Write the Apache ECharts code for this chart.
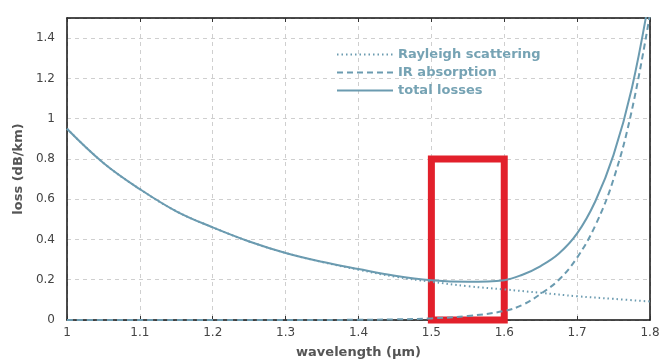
<!DOCTYPE html>
<html>
<head>
<meta charset="utf-8">
<script src="https://cdn.jsdelivr.net/npm/echarts@6/dist/echarts.min.js"></script>
<style>html,body{margin:0;padding:0;background:#fff;}#chart{width:660px;height:363px;}</style>
</head>
<body>
<div id="chart"></div>
<script>
// wavelength (µm) sample points
var rayleighX = [1.0,1.05,1.1,1.15,1.2,1.25,1.3,1.35,1.4,1.45,1.5,1.55,1.6,1.65,1.7,1.75,1.8];
var rayleighY = [0.95,0.78,0.65,0.54,0.46,0.39,0.333,0.288,0.25,0.215,0.19,0.168,0.152,0.135,0.118,0.105,0.092];

var irX = [1.0,1.1,1.2,1.3,1.4,1.45,1.5,1.55,1.6,1.625,1.65,1.675,1.7,1.725,1.75,1.775,1.8];
var irY = [0,0,0,0,0.001,0.003,0.008,0.02,0.045,0.075,0.13,0.2,0.31,0.47,0.7,1.04,1.52];

var totalX = [1.0,1.05,1.1,1.15,1.2,1.25,1.3,1.35,1.4,1.45,1.5,1.55,1.6,1.625,1.65,1.675,1.7,1.725,1.75,1.775,1.8];
var totalY = [0.95,0.78,0.65,0.54,0.46,0.39,0.333,0.289,0.253,0.22,0.198,0.19,0.198,0.225,0.268,0.33,0.43,0.59,0.82,1.15,1.62];

var seriesNames = ['Rayleigh scattering','IR absorption','total losses'];
var xTicks = [1,1.1,1.2,1.3,1.4,1.5,1.6,1.7,1.8];
var yTicks = [0,0.2,0.4,0.6,0.8,1,1.2,1.4];
// highlighted window: [x0, y0, x1, y1]
var windowBox = [1.5, 0, 1.6, 0.8];

function pairs(xs, ys){ return xs.map(function(x,i){ return [x, ys[i]]; }); }
function pick(list){ return function(v){ var t = list.filter(function(k){return Math.abs(k-v)<1e-6;}); return t.length? String(t[0]) : ''; }; }

var lineColor = '#6b9bb0';
var gridLine = {show:true,lineStyle:{color:'#cfcfcf',type:[4,4],width:1}};
var frame = {show:true,onZero:false,lineStyle:{color:'#111',width:1.5}};
var chart = echarts.init(document.getElementById('chart'), null, {renderer:'canvas'});
chart.setOption({
  animation:false,
  backgroundColor:'#fff',
  grid:{left:67,right:10,top:18,bottom:43,outerBoundsMode:'none',containLabel:false},
  legend:{
    orient:'vertical', left:331, top:43, itemGap:5, itemWidth:56, itemHeight:14,
    data:seriesNames,
    itemStyle:{opacity:0},
    textStyle:{color:'#76a3b4',fontWeight:'bold',fontSize:13,fontFamily:'DejaVu Sans'}
  },
  xAxis:[{
    type:'value', min:1, max:1.8, interval:0.1,
    name:'wavelength (µm)', nameLocation:'middle', nameGap:26,
    nameTextStyle:{color:'#555',fontWeight:'bold',fontSize:13,fontFamily:'DejaVu Sans'},
    axisLine:frame,
    axisTick:{show:true,inside:true,length:4,lineStyle:{color:'#333'}},
    axisLabel:{color:'#444',fontSize:12,fontFamily:'DejaVu Sans',margin:7,formatter:pick(xTicks)},
    splitLine:gridLine
  },{
    type:'value', min:1, max:1.8, interval:0.1, position:'top',
    axisLine:frame, axisTick:{show:true,inside:true,length:4,lineStyle:{color:'#333'}},
    axisLabel:{show:false}, splitLine:{show:false}
  }],
  yAxis:[{
    type:'value', min:0, max:1.5, interval:0.2,
    name:'loss (dB/km)', nameLocation:'middle', nameGap:35,
    nameTextStyle:{color:'#555',fontWeight:'bold',fontSize:13,fontFamily:'DejaVu Sans'},
    axisLine:frame,
    axisTick:{show:false},
    axisLabel:{color:'#444',fontSize:12,fontFamily:'DejaVu Sans',margin:12,showMaxLabel:false,formatter:pick(yTicks)},
    splitLine:gridLine
  },{
    type:'value', min:0, max:1.5, interval:0.2, position:'right',
    axisLine:frame, axisTick:{show:false}, axisLabel:{show:false}, splitLine:{show:false}
  }],
  series:[
    {name:seriesNames[0], type:'line', smooth:0.4, symbol:'none', clip:true,
     data:pairs(rayleighX, rayleighY),
     lineStyle:{color:lineColor,width:2,type:[1.5,3]}, itemStyle:{color:lineColor}},
    {name:seriesNames[1], type:'line', smooth:0.4, symbol:'none', clip:true,
     data:pairs(irX, irY),
     lineStyle:{color:lineColor,width:2,type:[6,4]}, itemStyle:{color:lineColor}},
    {name:seriesNames[2], type:'line', smooth:0.4, symbol:'none', clip:true,
     data:pairs(totalX, totalY),
     lineStyle:{color:lineColor,width:2}, itemStyle:{color:lineColor},
     markArea:{silent:true,
       itemStyle:{color:'rgba(0,0,0,0)',borderColor:'#e2202b',borderWidth:7},
       data:[[{xAxis:windowBox[0],yAxis:windowBox[1]},{xAxis:windowBox[2],yAxis:windowBox[3]}]]}}
  ]
});
</script>
</body>
</html>
